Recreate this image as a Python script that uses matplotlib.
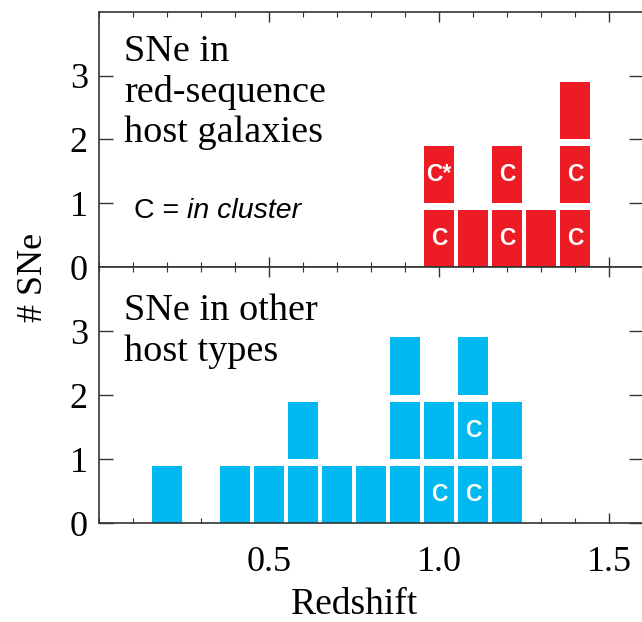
import matplotlib
matplotlib.use("Agg")
import matplotlib.pyplot as plt
from matplotlib.ticker import MultipleLocator, FixedLocator

# ---- data ----
red_z = [1.0, 1.1, 1.2, 1.3, 1.4]
red_n = [2, 1, 2, 1, 3]
red_labels = [["C", "C*"], [], ["C", "C"], [], ["C", "C"]]

blue_z = [0.2, 0.4, 0.5, 0.6, 0.7, 0.8, 0.9, 1.0, 1.1, 1.2]
blue_n = [1, 1, 1, 2, 1, 1, 3, 2, 3, 2]
blue_labels = [[], [], [], [], [], [], [], ["C"], ["C", "C"], []]

x_ticks = [0.5, 1.0, 1.5]
x_ticklabels = ["0.5", "1.0", "1.5"]
y_ticks = [0, 1, 2, 3]

RED = "#ED1C24"
BLUE = "#00B9F0"
SERIF = ["Liberation Serif", "DejaVu Serif"]
SANS = ["Liberation Sans", "DejaVu Sans"]
SPINE = "#333333"

fig = plt.figure(figsize=(6.42, 6.22), dpi=100)
ax1 = fig.add_axes([0.1542, 0.5707, 0.8474, 0.4105])
ax2 = fig.add_axes([0.1542, 0.1587, 0.8474, 0.4120])


def draw_blocks(ax, zs, ns, labels, color):
    for z, n, labs in zip(zs, ns, labels):
        ax.bar([z] * n, [0.9] * n, bottom=list(range(n)), width=0.088,
               color=color, linewidth=0, zorder=2)
        for k, lab in enumerate(labs):
            ax.text(z, k + 0.45, lab, ha="center", va="center", color="white",
                    fontsize=16.5, fontweight="bold", family=SANS, zorder=3)


draw_blocks(ax1, red_z, red_n, red_labels, RED)
draw_blocks(ax2, blue_z, blue_n, blue_labels, BLUE)

for i, ax in enumerate((ax1, ax2)):
    ax.set_xlim(0, 1.6)
    ax.set_ylim(0, 4)
    ax.xaxis.set_major_locator(FixedLocator(x_ticks))
    ax.xaxis.set_minor_locator(MultipleLocator(0.1))
    ax.yaxis.set_major_locator(FixedLocator(y_ticks))
    ax.set_yticklabels([str(v) for v in y_ticks], family=SERIF, fontsize=26)
    ax.tick_params(axis="x", which="major", direction="in", length=7, width=1,
                   top=True, bottom=True, color=SPINE, pad=16)
    ax.tick_params(axis="x", which="minor", direction="in", length=3.5, width=0.8,
                   top=True, bottom=True, color=SPINE)
    ax.tick_params(axis="y", which="major", direction="in", length=10, width=1,
                   left=True, right=True, color=SPINE, pad=8)
    for s in ax.spines.values():
        s.set_color(SPINE)
        s.set_linewidth(1.2)
    if i == 0:
        ax.set_xticklabels([])
    else:
        ax.set_xticklabels(x_ticklabels, family=SERIF, fontsize=26)

# panel texts
def px_to_data_y(px, zero_px):
    return (zero_px - px) / 63.9

x_text = 0.0735
for line, base in [("SNe in", 61), ("red-sequence", 101.5), ("host galaxies", 142)]:
    ax1.text(x_text, px_to_data_y(base, 267), line, family=SERIF, fontsize=27.5,
             va="baseline", ha="left")
for line, base in [("SNe in other", 321), ("host types", 361)]:
    ax2.text(x_text, px_to_data_y(base, 523.3), line, family=SERIF, fontsize=27.5,
             va="baseline", ha="left")

t1 = ax1.text(0.103, 0.88, "C = ", family=SANS, fontsize=20.5, va="center", ha="left")
ax1.annotate("in cluster", xy=(1, 0), xycoords=t1, va="bottom", ha="left",
             family=SANS, fontsize=20.5, style="italic")

fig.text(354 / 642, 1 - 614 / 622, "Redshift", family=SERIF, fontsize=27,
         ha="center", va="baseline")
fig.text(33 / 642, 1 - 277 / 622, "# SNe", family=SERIF, fontsize=26,
         ha="center", va="center", rotation=90)

fig.savefig("out.png", dpi=100)
